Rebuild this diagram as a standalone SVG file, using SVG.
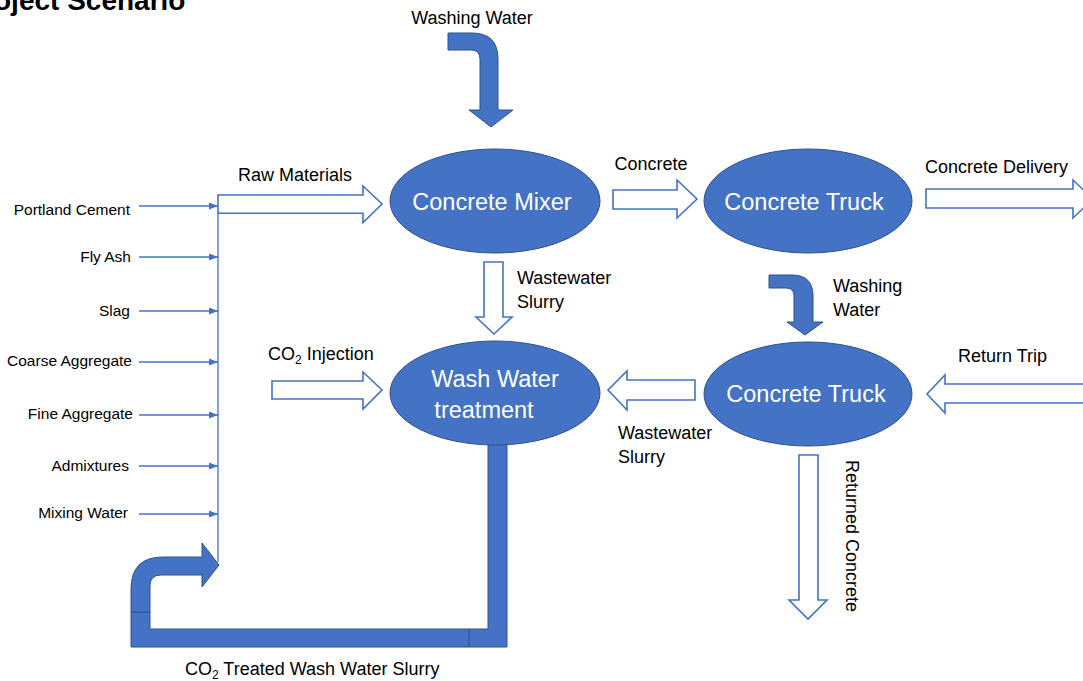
<svg xmlns="http://www.w3.org/2000/svg" width="1083" height="681" viewBox="0 0 1083 681">
<style>
  text { font-family: "Liberation Sans", Arial, sans-serif; fill: #000; }
  .lbl { font-size: 18px; }
  .src { font-size: 15.5px; text-anchor: end; }
  .node { fill: #4472C4; stroke: #2F528F; stroke-width: 1; }
  .ntext { font-size: 23.5px; fill: #fff; text-anchor: middle; }
  .block { fill: #fff; stroke: #4472C4; stroke-width: 1.6; stroke-linejoin: miter; }
  .solid { fill: #4472C4; stroke: #2F528F; stroke-width: 1; }
  .thin { stroke: #4472C4; stroke-width: 1.3; fill: none; }
</style>
<defs>
  <marker id="ah" markerUnits="userSpaceOnUse" markerWidth="9" markerHeight="7" refX="9" refY="3.5" orient="auto">
    <path d="M0,0 L9,3.5 L0,7 Z" fill="#4472C4"/>
  </marker>
</defs>
<rect width="1083" height="681" fill="#fff"/>
<text x="-6" y="10" style="font-size:28px;font-weight:bold">oject Scenario</text>

<g id="connectors">
  <!-- pipe: CO2 treated wash water slurry -->
  <path class="solid" d="M131,612 L150,612 L150,629 L488,629 L488,420 L507,420 L507,647 L131,647 Z"/>
  <path class="solid" d="M131,612 L131,589 Q131,557 163,557 L202,557 L202,543 L219,565 L202,587 L202,575 L161,575 Q150,575 150,586 L150,612 Z"/>
  <path d="M469,629 L469,647" stroke="#2F528F" stroke-width="1.2"/>

  <!-- raw material inputs -->
  <line class="thin" x1="218" y1="213" x2="218" y2="562"/>
  <line class="thin" x1="139" y1="206" x2="218" y2="206" marker-end="url(#ah)"/>
  <line class="thin" x1="139" y1="257" x2="218" y2="257" marker-end="url(#ah)"/>
  <line class="thin" x1="139" y1="311" x2="218" y2="311" marker-end="url(#ah)"/>
  <line class="thin" x1="139" y1="362" x2="218" y2="362" marker-end="url(#ah)"/>
  <line class="thin" x1="139" y1="415" x2="218" y2="415" marker-end="url(#ah)"/>
  <line class="thin" x1="139" y1="466" x2="218" y2="466" marker-end="url(#ah)"/>
  <line class="thin" x1="139" y1="514" x2="218" y2="514" marker-end="url(#ah)"/>

  <!-- block arrows -->
  <path class="block" d="M218,195 L363,195 L363,186 L382,204 L363,222.5 L363,213.3 L218,213.3 Z"/>
  <path class="block" d="M272,381 L363,381 L363,372 L382,390 L363,409 L363,399 L272,399 Z"/>
  <path class="block" d="M613,190 L677,190 L677,180 L697,199 L677,218 L677,209 L613,209 Z"/>
  <path class="block" d="M926,189 L1073,189 L1073,180 L1093,199 L1073,218 L1073,208 L926,208 Z"/>
  <path class="block" d="M484,262 L503,262 L503,317 L512,317 L494,334 L476,317 L484,317 Z"/>
  <path class="block" d="M695,380 L627,380 L627,371 L608,390 L627,410 L627,400 L695,400 Z"/>
  <path class="block" d="M1095,384 L945,384 L945,375 L927,394 L945,413 L945,403 L1095,403 Z"/>
  <path class="block" d="M799,455 L818,455 L818,600 L827,600 L808,619 L789,600 L799,600 Z"/>

  <!-- washing water bent arrows -->
  <path class="solid" d="M448,33 L472,33 Q498,33 498,59 L498,110 L513,110 L491,127 L469,110 L480,110 L480,59 Q480,50 471,50 L448,50 Z"/>
  <path class="solid" d="M769,275 L792,275 Q813,275 813,296 L813,322 L823,322 L805,335 L787,322 L794,322 L794,296 Q794,288 786,288 L769,288 Z"/>
</g>

<g id="mixer">
  <ellipse class="node" cx="495" cy="201" rx="105" ry="52"/>
  <text class="ntext" x="492" y="210">Concrete Mixer</text>
</g>
<g id="treatment">
  <ellipse class="node" cx="495" cy="393" rx="105" ry="52"/>
  <text class="ntext" x="495" y="387">Wash Water</text>
  <text class="ntext" x="484" y="418">treatment</text>
</g>
<g id="truck1">
  <ellipse class="node" cx="808" cy="201" rx="104" ry="52"/>
  <text class="ntext" x="804" y="210">Concrete Truck</text>
</g>
<g id="truck2">
  <ellipse class="node" cx="808" cy="394" rx="104" ry="52"/>
  <text class="ntext" x="806" y="402">Concrete Truck</text>
</g>

<g id="labels">
  <text class="lbl" x="472" y="24" text-anchor="middle">Washing Water</text>
  <text class="lbl" x="295" y="181" text-anchor="middle">Raw Materials</text>
  <text class="lbl" x="651" y="170" text-anchor="middle">Concrete</text>
  <text class="lbl" x="925" y="173">Concrete Delivery</text>
  <text class="lbl" x="517" y="284">Wastewater</text>
  <text class="lbl" x="517" y="308">Slurry</text>
  <text class="lbl" x="833" y="292">Washing</text>
  <text class="lbl" x="833" y="316">Water</text>
  <text class="lbl" x="958" y="362">Return Trip</text>
  <text class="lbl" x="268" y="360">CO<tspan font-size="12" dy="4">2</tspan><tspan dy="-4"> Injection</tspan></text>
  <text class="lbl" x="618" y="439">Wastewater</text>
  <text class="lbl" x="618" y="463">Slurry</text>
  <text class="lbl" transform="translate(846,460) rotate(90)">Returned Concrete</text>
  <text class="lbl" x="185" y="675">CO<tspan font-size="12" dy="4">2</tspan><tspan dy="-4"> Treated Wash Water Slurry</tspan></text>

  <text class="src" x="130" y="215">Portland Cement</text>
  <text class="src" x="131" y="262">Fly Ash</text>
  <text class="src" x="130" y="316">Slag</text>
  <text class="src" x="132" y="366">Coarse Aggregate</text>
  <text class="src" x="133" y="419">Fine Aggregate</text>
  <text class="src" x="129" y="471">Admixtures</text>
  <text class="src" x="128" y="518">Mixing Water</text>
</g>
</svg>
